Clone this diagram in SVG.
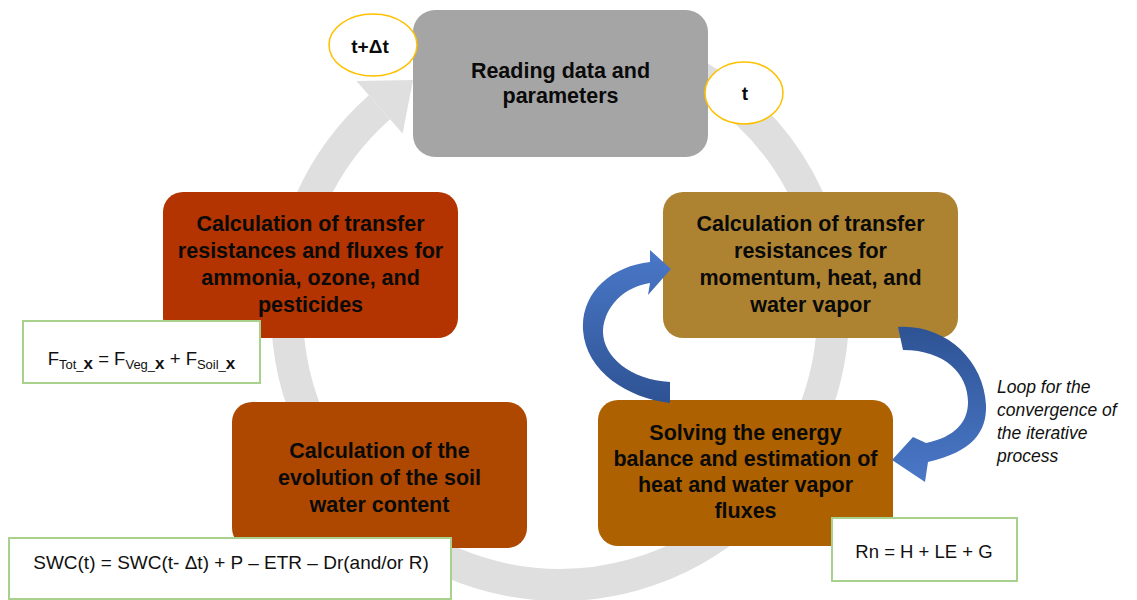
<svg xmlns="http://www.w3.org/2000/svg" width="1137" height="600" viewBox="0 0 1137 600">
<style>
.bt{font-family:"Liberation Sans",Arial,sans-serif;font-weight:bold;font-size:21.5px;fill:#0a0a0a;text-anchor:middle}
.ft{font-family:"Liberation Sans",Arial,sans-serif;font-size:18.5px;fill:#111;text-anchor:middle}
.it{font-family:"Liberation Sans",Arial,sans-serif;font-style:italic;font-size:17.5px;fill:#111}
.ell{fill:#fff;stroke:#FFC000;stroke-width:1.5}
.fbox{fill:#fff;stroke:#A9D18E;stroke-width:2}
.sub{font-size:13px}
</style>
<defs>
<linearGradient id="gL" x1="0" y1="0" x2="0" y2="1">
<stop offset="0" stop-color="#4A78C8"/><stop offset="1" stop-color="#2E5394"/>
</linearGradient>
<linearGradient id="gR" x1="0" y1="0" x2="0" y2="1">
<stop offset="0" stop-color="#2E5394"/><stop offset="1" stop-color="#4A78C8"/>
</linearGradient>
</defs>
<rect width="1137" height="600" fill="#fff"/>
<g id="connectors-cycle">
<path d="M607.4,43.1 A273,273 0 1 1 379.5,107.2" fill="none" stroke="#DFDFDF" stroke-width="32"/>
<polygon points="356.4,81 413,80 402.6,133.5" fill="#DFDFDF"/>
</g>
<g id="n-read">
<rect x="413" y="10" width="295" height="147" rx="22" fill="#A5A5A5"/>
<text class="bt" x="560.5" y="78">Reading data and</text>
<text class="bt" x="560.5" y="103">parameters</text>
</g>
<g id="n-resist">
<rect x="663" y="192" width="295" height="146" rx="20" fill="#AD8332"/>
<text class="bt" x="810.5" y="231">Calculation of transfer</text>
<text class="bt" x="810.5" y="258">resistances for</text>
<text class="bt" x="810.5" y="285">momentum, heat, and</text>
<text class="bt" x="810.5" y="312">water vapor</text>
</g>
<g id="n-energy">
<rect x="598" y="400" width="295" height="146" rx="20" fill="#AE6100"/>
<text class="bt" x="745.5" y="440">Solving the energy</text>
<text class="bt" x="745.5" y="466">balance and estimation of</text>
<text class="bt" x="745.5" y="492">heat and water vapor</text>
<text class="bt" x="745.5" y="518">fluxes</text>
</g>
<g id="n-soil">
<rect x="232" y="402" width="295" height="146" rx="20" fill="#AE4800"/>
<text class="bt" x="379.5" y="458">Calculation of the</text>
<text class="bt" x="379.5" y="485">evolution of the soil</text>
<text class="bt" x="379.5" y="512">water content</text>
</g>
<g id="n-fluxes">
<rect x="163" y="192" width="295" height="146" rx="20" fill="#B33400"/>
<text class="bt" x="310.5" y="231">Calculation of transfer</text>
<text class="bt" x="310.5" y="258">resistances and fluxes for</text>
<text class="bt" x="310.5" y="285">ammonia, ozone, and</text>
<text class="bt" x="310.5" y="312">pesticides</text>
</g>
<g id="n-tdt">
<ellipse class="ell" cx="373" cy="45" rx="44" ry="31"/>
<text class="bt" x="370" y="53" style="font-size:19px">t+Δt</text>
</g>
<g id="n-t">
<ellipse class="ell" cx="744" cy="93" rx="39" ry="31"/>
<text class="bt" x="745" y="100" style="font-size:19px">t</text>
</g>
<g id="connectors-loop">
<path d="M670,403 C628,398 586,372 583,330 C581,292 612,266 650,262 L650,250 L671,269 L648,295 L650,283 C624,287 605,306 603,330 C602,356 630,380 670,382 Z" fill="url(#gL)"/>
<path d="M898,327 C945,324 984,360 986,405 C987,432 972,452 928,462 L925,482 L892,460 L913,437 L926,443 C955,437 968,422 968,402 C968,374 945,350 903,350 Z" fill="url(#gR)"/>
</g>
<g id="n-loop-label">
<text class="it" x="997" y="393">Loop for the</text>
<text class="it" x="997" y="416">convergence of</text>
<text class="it" x="997" y="439">the iterative</text>
<text class="it" x="997" y="462">process</text>
</g>
<g id="n-fsum">
<rect class="fbox" x="23" y="321" width="237" height="62"/>
<text class="ft" x="141.5" y="365">F<tspan class="sub" dy="4">Tot_</tspan><tspan style="font-size:17px;font-weight:bold">x</tspan><tspan dy="-4"> = F</tspan><tspan class="sub" dy="4">Veg_</tspan><tspan style="font-size:17px;font-weight:bold">x</tspan><tspan dy="-4"> + F</tspan><tspan class="sub" dy="4">Soil_</tspan><tspan style="font-size:17px;font-weight:bold">x</tspan></text>
</g>
<g id="n-swc">
<rect class="fbox" x="9" y="538" width="442" height="61"/>
<text class="ft" x="231" y="569" style="font-size:19px">SWC(t) = SWC(t- Δt) + P – ETR – Dr(and/or R)</text>
</g>
<g id="n-rn">
<rect class="fbox" x="832" y="518" width="185" height="63"/>
<text class="ft" x="924" y="558">Rn = H + LE + G</text>
</g>
</svg>
